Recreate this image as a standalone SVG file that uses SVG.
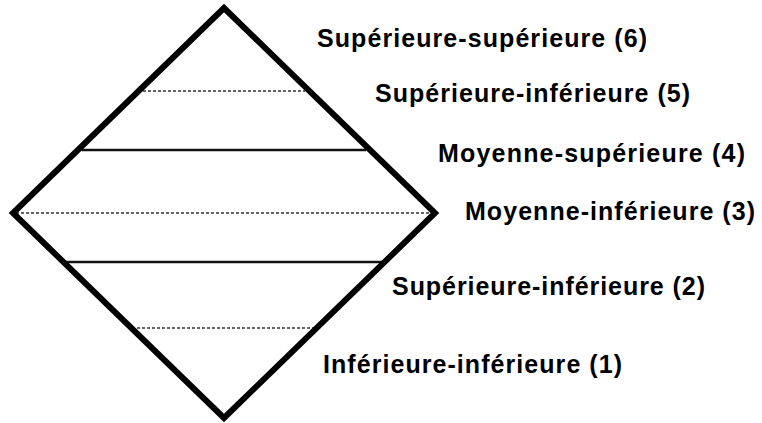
<svg xmlns="http://www.w3.org/2000/svg" width="762" height="423" viewBox="0 0 762 423">
<style>
.lbl{font-family:"Liberation Sans",Arial,sans-serif;font-weight:bold;font-size:25px;fill:#000}
.dash{stroke:#333;stroke-width:1.3;stroke-dasharray:3,2;fill:none}
.solid{stroke:#111;stroke-width:2.5;fill:none}
</style>
<rect width="762" height="423" fill="#fff"/>
<g id="connectors">
<line class="dash" x1="143" y1="91" x2="305" y2="91"/>
<line class="solid" x1="82" y1="150" x2="366" y2="150"/>
<line class="dash" x1="16" y1="213" x2="432" y2="213"/>
<line class="solid" x1="66" y1="262" x2="384" y2="262"/>
<line class="dash" x1="137" y1="328" x2="315" y2="328"/>
</g>
<g id="diamond">
<polygon points="224,8 435,213 224,418 13,213" fill="none" stroke="#000" stroke-width="6" stroke-linejoin="miter"/>
</g>
<g id="level6"><text class="lbl" x="317" y="47" textLength="330" lengthAdjust="spacing">Supérieure-supérieure (6)</text></g>
<g id="level5"><text class="lbl" x="375" y="102" textLength="315" lengthAdjust="spacing">Supérieure-inférieure (5)</text></g>
<g id="level4"><text class="lbl" x="438" y="162" textLength="307" lengthAdjust="spacing">Moyenne-supérieure (4)</text></g>
<g id="level3"><text class="lbl" x="465" y="220" textLength="290" lengthAdjust="spacing">Moyenne-inférieure (3)</text></g>
<g id="level2"><text class="lbl" x="392" y="295" textLength="313" lengthAdjust="spacing">Supérieure-inférieure (2)</text></g>
<g id="level1"><text class="lbl" x="323" y="373" textLength="299" lengthAdjust="spacing">Inférieure-inférieure (1)</text></g>
</svg>
